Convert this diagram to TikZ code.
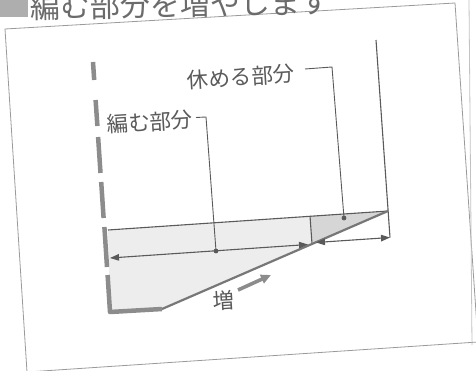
\documentclass[tikz,border=0pt]{standalone}
\usepackage{fontspec}
\newfontfamily\jp{Noto Sans CJK JP}
\usetikzlibrary{arrows.meta}
\definecolor{ink}{HTML}{5A5A5A}
\definecolor{selv}{HTML}{8C8C8C}
\definecolor{bandfill}{HTML}{EDEDED}
\definecolor{restfill}{HTML}{D6D6D6}
\definecolor{framec}{HTML}{9A9A9A}
\begin{document}
\begin{tikzpicture}[x=1pt,y=-1pt,
  frameline/.style={draw=framec,line width=0.8pt},
  thickgray/.style={draw=selv,line width=4.5pt},
  thinline/.style={draw=ink,line width=1.1pt},
  diagline/.style={draw=selv!85!black,line width=2.2pt},
  dimline/.style={draw=ink,line width=1.1pt,{Triangle[length=9pt,width=6.5pt]}-{Triangle[length=9pt,width=6.5pt]}},
  leader/.style={draw=ink,line width=0.9pt},
  dotc/.style={fill=ink,draw=none},
  label/.style={font=\jp\fontsize{21.5}{23}\selectfont,text=ink,inner sep=0pt,rotate=3.7},
  incarrow/.style={draw=selv,line width=3.6pt,-{Triangle[length=10pt,width=9pt]}}
]
\useasboundingbox (0,0) rectangle (476,371);
% outer frame and page edge
\draw[frameline] (5,29) -- (455,3) -- (478,342) -- (27,372) -- cycle;
\draw[draw=framec!60,line width=0.8pt] (469,0) -- (472,345);
% title (cut off at top)
\fill[color=framec!80] (0,-5) rectangle (28,17);
\node[font=\jp\fontsize{30}{32}\selectfont,text=ink!90,inner sep=0pt,anchor=south west,rotate=1] (title) at (30,21) {編む部分を増やします};
% coordinates
\coordinate (T1) at (108,230);
\coordinate (T2) at (388,211);
\coordinate (D1) at (162,309);
\coordinate (B0) at (110,312);
\coordinate (V1) at (310,216);
\coordinate (V2) at (312,244);
\coordinate (A1) at (110,258);
\coordinate (A2) at (308,244.5);
\coordinate (A3) at (316,242.5);
\coordinate (A4) at (390,237.5);
\coordinate (R1) at (376,40);
% fills
\fill[bandfill] (T1) -- (T2) -- (D1) -- (B0) -- cycle;
\fill[restfill] (V1) -- (T2) -- (V2) -- cycle;
% lines
\draw[thinline] (T1) -- (T2);
\draw[thinline] (V1) -- (V2);
\draw[thinline] (R1) -- (A4);
\draw[diagline] (D1) -- (T2);
% selvedge: dashed thick line and bottom L
\draw[thickgray] (93,62) -- (94.2,80);
\draw[thickgray] (95.6,100) -- (97.4,126);
\draw[thickgray] (98.1,137) -- (100.5,173);
\draw[thickgray] (101.2,182) -- (103.6,218);
\draw[thickgray] (104.4,227) -- (107,267);
\draw[thickgray,line join=round] (107.6,275) -- (B0) -- (D1);
% dimension arrows
\draw[dimline] (A1) -- (A2);
\draw[dimline] (A3) -- (A4);
% labels and leaders
\node[label] (knit) at (150,122) {編む部分};
\node[label] (rest) at (241,77) {休める部分};
\coordinate (K1) at (196,117.5);
\coordinate (K2) at (206,117);
\coordinate (Kd) at (216,251);
\coordinate (S1) at (305,69);
\coordinate (S2) at (332,67);
\coordinate (Sd) at (344,218);
\draw[leader] (K1) -- (K2) -- (Kd);
\draw[leader] (S1) -- (S2) -- (Sd);
\fill[dotc] (Kd) circle (2.4);
\fill[dotc] (Sd) circle (2.4);
% increase label
\node[label] (inc) at (224,301) {増};
\coordinate (I1) at (238,290);
\coordinate (I2) at (271,275);
\draw[incarrow] (I1) -- (I2);
\end{tikzpicture}
\end{document}
